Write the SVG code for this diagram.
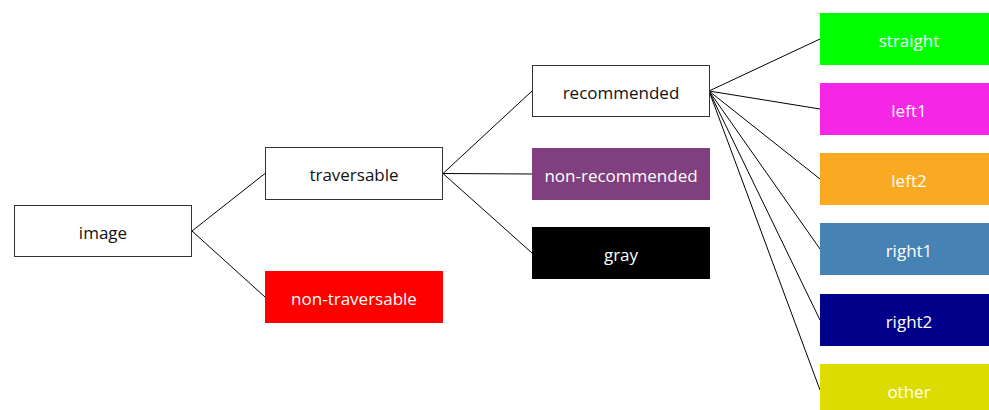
<svg xmlns="http://www.w3.org/2000/svg" width="989" height="410" viewBox="0 0 989 410">
<style>
.box{stroke:#333;stroke-width:1}
.w{fill:#fff}
text{font-family:"Open Sans","Noto Sans",sans-serif;font-size:17px;text-anchor:middle;dominant-baseline:central}
.dark{fill:#111}
.light{fill:#fff}
.edge{stroke:#000;stroke-width:1;fill:none}
</style>
<rect width="989" height="410" fill="#fff"/>
<g id="connectors">
<line class="edge" x1="192" y1="231" x2="265" y2="173.5"/>
<line class="edge" x1="192" y1="231" x2="265" y2="297"/>
<line class="edge" x1="443" y1="173.5" x2="532" y2="91"/>
<line class="edge" x1="443" y1="173.5" x2="532" y2="174"/>
<line class="edge" x1="443" y1="173.5" x2="532" y2="253"/>
<line class="edge" x1="709" y1="91" x2="820" y2="39"/>
<line class="edge" x1="709" y1="91" x2="820" y2="109"/>
<line class="edge" x1="709" y1="91" x2="820" y2="179"/>
<line class="edge" x1="709" y1="91" x2="820" y2="249"/>
<line class="edge" x1="709" y1="91" x2="820" y2="320"/>
<line class="edge" x1="709" y1="91" x2="820" y2="390"/>
</g>
<g id="image"><rect class="box w" x="14.5" y="205.5" width="177" height="51"/><text class="dark" x="103" y="232">image</text></g>
<g id="traversable"><rect class="box w" x="265.5" y="147.5" width="177" height="52"/><text class="dark" x="354" y="174.5">traversable</text></g>
<g id="non-traversable"><rect x="265" y="271" width="178" height="52" fill="#ff0000"/><text class="light" x="354" y="298">non-traversable</text></g>
<g id="recommended"><rect class="box w" x="532.5" y="65.5" width="177" height="51"/><text class="dark" x="621" y="92">recommended</text></g>
<g id="non-recommended"><rect x="532" y="148" width="178" height="52" fill="#803f7e"/><text class="light" x="621" y="175">non-recommended</text></g>
<g id="gray"><rect x="532" y="227" width="178" height="52" fill="#000"/><text class="light" x="621" y="254">gray</text></g>
<g id="straight"><rect x="820" y="13" width="178" height="52" fill="#00ff00"/><text class="light" x="909" y="40">straight</text></g>
<g id="left1"><rect x="820" y="83" width="178" height="52" fill="#f526e6"/><text class="light" x="909" y="110">left1</text></g>
<g id="left2"><rect x="820" y="153" width="178" height="52" fill="#f9aa22"/><text class="light" x="909" y="180">left2</text></g>
<g id="right1"><rect x="820" y="223" width="178" height="52" fill="#4682b4"/><text class="light" x="909" y="250">right1</text></g>
<g id="right2"><rect x="820" y="294" width="178" height="52" fill="#00008b"/><text class="light" x="909" y="321">right2</text></g>
<g id="other"><rect x="820" y="364" width="178" height="52" fill="#dcdc00"/><text class="light" x="909" y="391">other</text></g>
</svg>
